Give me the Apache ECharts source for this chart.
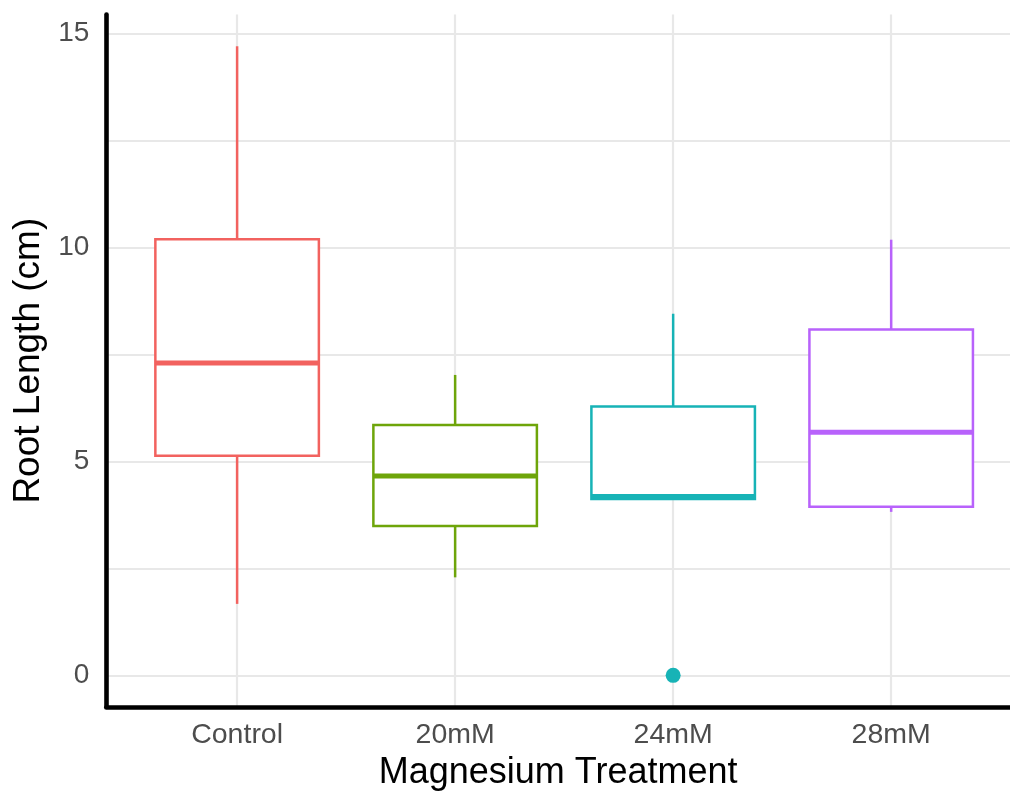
<!DOCTYPE html>
<html>
<head>
<meta charset="utf-8">
<style>
  html, body { margin: 0; padding: 0; background: #fff; }
  #chart { width: 1010px; height: 793px; }
</style>
<script src="https://cdn.jsdelivr.net/npm/echarts@6/dist/echarts.min.js"></script>
</head>
<body>
<div id="chart"></div>
<script>
// Root length (cm) by magnesium treatment: five-number summaries per group
const categories   = ['Control', '20mM', '24mM', '28mM'];
const whiskerLow   = [1.67, 2.29, 4.12, 3.82];
const lowerQuart   = [5.13, 3.49, 4.12, 3.94];
const medians      = [7.30, 4.66, 4.18, 5.68];
const upperQuart   = [10.19, 5.85, 6.28, 8.08];
const whiskerHigh  = [14.70, 7.02, 8.45, 10.18];
const outliers     = [['24mM', 0]];
const groupColors  = ['#F2625F', '#6EA50A', '#17B3B6', '#B862FB'];
const yTickValues  = [0, 5, 10, 15];

// boxes sit at positions 1..n on a continuous x scale
const boxData = categories.map((c, i) => [
  i + 1, whiskerLow[i], lowerQuart[i], medians[i], upperQuart[i], whiskerHigh[i]
]);
const outlierData = outliers.map(([c, v]) => [categories.indexOf(c) + 1, v]);

const FONT = 'Liberation Sans, Arial, sans-serif';
const BOX_WIDTH = 0.75;
const LINE_W = 2.5;

function renderBox(params, api) {
  const x = api.value(0);
  const lo = api.coord([x, api.value(1)]);
  const q1 = api.coord([x, api.value(2)]);
  const md = api.coord([x, api.value(3)]);
  const q3 = api.coord([x, api.value(4)]);
  const hi = api.coord([x, api.value(5)]);
  const half = api.size([BOX_WIDTH, 0])[0] / 2;
  const color = groupColors[params.dataIndex];
  return {
    type: 'group',
    children: [
      { type: 'line', shape: { x1: hi[0], y1: hi[1], x2: q3[0], y2: q3[1] },
        style: { stroke: color, lineWidth: LINE_W } },
      { type: 'line', shape: { x1: lo[0], y1: lo[1], x2: q1[0], y2: q1[1] },
        style: { stroke: color, lineWidth: LINE_W } },
      { type: 'rect', shape: { x: q3[0] - half, y: q3[1], width: half * 2, height: q1[1] - q3[1] },
        style: { fill: '#fff', stroke: color, lineWidth: LINE_W } },
      { type: 'line', shape: { x1: md[0] - half, y1: md[1], x2: md[0] + half, y2: md[1] },
        style: { stroke: color, lineWidth: LINE_W * 2 } }
    ]
  };
}

const chart = echarts.init(document.getElementById('chart'), null, { renderer: 'canvas' });
chart.setOption({
  animation: false,
  backgroundColor: '#fff',
  grid: { left: 106.3, top: 14.6, right: 0, height: 692.2,
          containLabel: false, outerBoundsMode: 'none' },
  xAxis: {
    type: 'value',
    min: 0.4, max: 4.545,
    splitNumber: 4, minInterval: 1, maxInterval: 1,
    name: 'Magnesium Treatment',
    nameLocation: 'middle',
    nameGap: 46,
    nameTextStyle: { fontFamily: FONT, fontSize: 36, color: '#000' },
    axisLine: { onZero: false, lineStyle: { color: '#000', width: 4.6 } },
    axisTick: { show: false },
    axisLabel: {
      margin: 14,
      fontFamily: FONT, fontSize: 28.5, color: '#4D4D4D',
      showMinLabel: false, showMaxLabel: false,
      formatter: v => (Number.isInteger(v) && v >= 1 && v <= categories.length) ? categories[v - 1] : ''
    },
    splitLine: { show: true, showMinLine: false, showMaxLine: false,
                 lineStyle: { color: '#E8E8E8', width: 2.2 } }
  },
  yAxis: {
    type: 'value',
    min: -0.735, max: 15.44,
    splitNumber: 3, minInterval: 5, maxInterval: 5,
    name: 'Root Length (cm)',
    nameLocation: 'middle',
    nameRotate: 90,
    nameGap: 59,
    nameTextStyle: { fontFamily: FONT, fontSize: 37, color: '#000' },
    axisLine: { show: true, onZero: false, lineStyle: { color: '#000', width: 4.6 } },
    axisTick: { show: false },
    axisLabel: {
      margin: 17,
      fontFamily: FONT, fontSize: 28, color: '#4D4D4D',
      showMinLabel: false, showMaxLabel: false,
      formatter: v => yTickValues.includes(v) ? String(v) : ''
    },
    splitLine: { show: true, showMinLine: false, showMaxLine: false,
                 lineStyle: { color: '#E8E8E8', width: 2.2 } },
    minorTick: { show: false, splitNumber: 2 },
    minorSplitLine: { show: true, lineStyle: { color: '#E8E8E8', width: 1.8 } }
  },
  series: [
    {
      type: 'custom',
      name: 'boxes',
      renderItem: renderBox,
      encode: { x: 0, y: [1, 2, 3, 4, 5] },
      data: boxData,
      z: 3
    },
    {
      type: 'scatter',
      name: 'outliers',
      data: outlierData,
      symbol: 'circle',
      symbolSize: 15,
      itemStyle: { opacity: 1, color: (p) => groupColors[p.value[0] - 1] },
      z: 4
    }
  ]
});
</script>
</body>
</html>
